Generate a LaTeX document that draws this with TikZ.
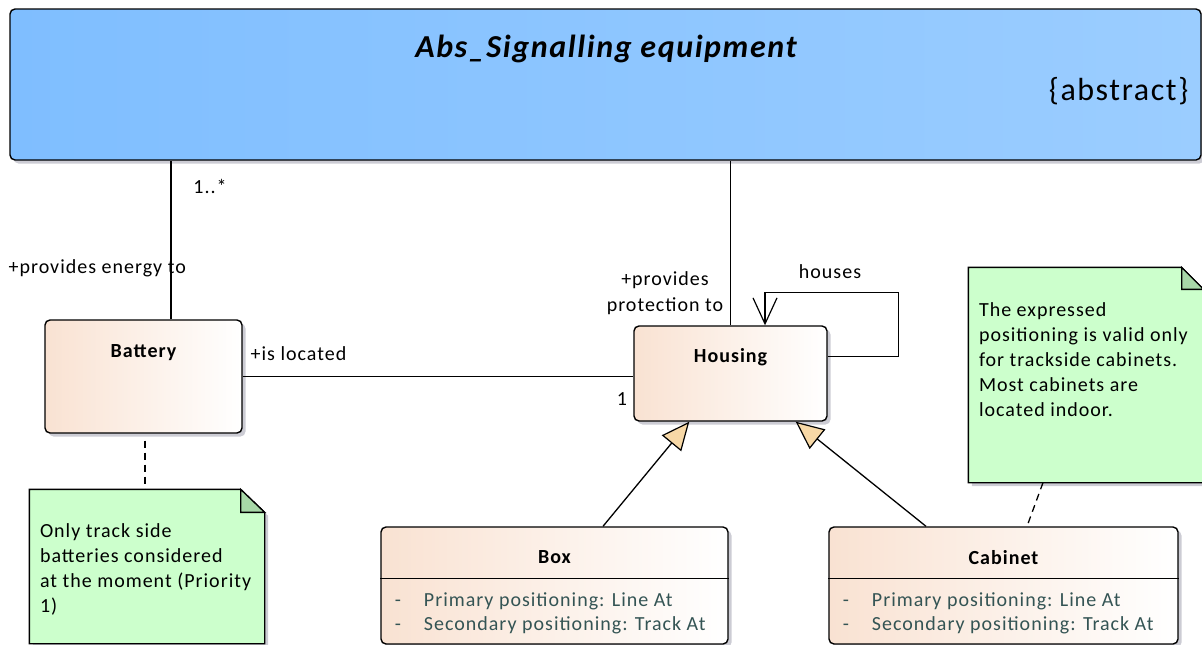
\documentclass[tikz,border=0pt]{standalone}
\usepackage{fontspec}
\setmainfont{Carlito}[LetterSpace=5]
\usetikzlibrary{positioning,calc,arrows.meta,shadows}
\tikzset{>=stealth}

\definecolor{absleft}{RGB}{127,190,255}
\definecolor{absright}{RGB}{155,205,255}
\definecolor{classleft}{RGB}{249,226,210}
\definecolor{notefill}{RGB}{204,255,204}
\definecolor{notefold}{RGB}{168,216,168}
\definecolor{attrtext}{RGB}{52,84,84}
\definecolor{genfill}{RGB}{247,216,166}
\definecolor{shadowgrey}{RGB}{204,204,212}

\tikzset{
  umlshadow/.style={drop shadow={shadow xshift=3.5pt,shadow yshift=-3.5pt,fill=shadowgrey,opacity=1}},
  absbox/.style={draw,line width=1.4pt,rounded corners=5pt,left color=absleft,right color=absright,umlshadow},
  classbox/.style={draw,line width=1.4pt,rounded corners=5pt,left color=classleft,right color=white,umlshadow},
  classname/.style={font=\fontsize{20}{24}\selectfont\bfseries},
  notebody/.style={draw,line width=1.3pt,fill=notefill,umlshadow},
  notefoldpart/.style={draw,line width=1.3pt,fill=notefold},
  notetext/.style={align=left,inner sep=0pt,anchor=north west},
  notelink/.style={line width=1.3pt,dash pattern=on 7pt off 5pt},
  inherit/.style={line width=1.3pt,-{Triangle[open,fill=genfill,length=28pt,width=25pt,line width=1.2pt]}},
  selfassoc/.style={line width=1.3pt,-{Straight Barb[length=26pt,width=24pt,line width=1.2pt]}},
  attr/.style={anchor=west,inner sep=0pt,text=attrtext}
}

\begin{document}
\begin{tikzpicture}[x=1pt,y=-1pt,font=\fontsize{20}{25}\selectfont,line width=1.3pt]
\useasboundingbox (0,0) rectangle (1202,645);

\node[absbox,minimum width=1191pt,minimum height=151pt] (abs) at (605.5,84.5) {};
\node[font=\fontsize{32}{38}\selectfont\bfseries\itshape] (abstitle) at (606,49) {Abs\_Signalling equipment};
\node[font=\fontsize{32}{38}\selectfont,anchor=east,inner sep=0pt] (absstereo) at (1189,91) {\{abstract\}};

\node[classbox,minimum width=197pt,minimum height=113pt] (battery) at (143.5,376.5) {};
\node[classname] (batteryname) at ($(battery.north)+(0,33)$) {Battery};
\node[classbox,minimum width=193pt,minimum height=95pt] (housing) at (730.5,373.5) {};
\node[classname] (housingname) at ($(housing.north)+(0,32)$) {Housing};
\node[classbox,minimum width=347pt,minimum height=117pt] (box) at (554.5,585.5) {};
\node[classname] (boxname) at ($(box.north)+(0,31)$) {Box};
\node[classbox,minimum width=349pt,minimum height=117pt] (cabinet) at (1003.5,585.5) {};
\node[classname] (cabinetname) at ($(cabinet.north)+(0,31)$) {Cabinet};

\foreach \c in {box,cabinet} {
  \draw[line width=1.3pt] ($(\c.north west)+(0,52)$) -- ($(\c.north east)+(0,52)$);
  \node[attr] (\c attra) at ($(\c.north west)+(14,75)$) {\makebox[29pt][l]{-}Primary positioning: Line At};
  \node[attr] (\c attrb) at ($(\c.north west)+(14,99)$) {\makebox[29pt][l]{-}Secondary positioning: Track At};
}

\node[minimum width=234pt,minimum height=153pt,inner sep=0pt] (batterynote) at (147,566.5) {};
\draw[notebody] (batterynote.south west) -- (batterynote.north west) -- ($(batterynote.north east)+(-24,0)$)
  -- ($(batterynote.north east)+(0,23)$) -- (batterynote.south east) -- cycle;
\draw[notefoldpart] ($(batterynote.north east)+(-24,0)$) -- ++(0,23) -- ++(24,0) -- cycle;
\node[notetext] (batterynotetext) at ($(batterynote.north west)+(10,34)$)
  {Only track side\\batteries considered\\at the moment (Priority\\1)};

\node[minimum width=234pt,minimum height=214pt,inner sep=0pt] (cabinetnote) at (1086,375) {};
\draw[notebody] (cabinetnote.south west) -- (cabinetnote.north west) -- ($(cabinetnote.north east)+(-22,0)$)
  -- ($(cabinetnote.north east)+(0,22)$) -- (cabinetnote.south east) -- cycle;
\draw[notefoldpart] ($(cabinetnote.north east)+(-22,0)$) -- ++(0,22) -- ++(22,0) -- cycle;
\node[notetext] (cabinetnotetext) at ($(cabinetnote.north west)+(10,35)$)
  {The expressed\\positioning is valid only\\for trackside cabinets.\\Most cabinets are\\located indoor.};

\draw ($(battery.north)+(27.5,0)$) coordinate (batterytop) -- (batterytop |- abs.south);
\draw (battery.east) -- (battery.east -| housing.west);
\draw (housing.north) -- (housing.north |- abs.south);
\draw[selfassoc] ($(housing.east)+(0,-17)$) -- ++(71,0) |- ($(housing.north)+(34.5,-33)$)
  -- ($(housing.north)+(34.5,0)$);
\draw[inherit] ($(box.north)+(48.5,0)$) -- ($(housing.south west)+(56,0)$);
\draw[inherit] ($(cabinet.north)+(-77.5,0)$) -- ($(housing.south east)+(-32,0)$);
\draw[notelink] ($(battery.south)+(1.5,7)$) -- ($(batterynote.north)+(-2,0)$);
\draw[notelink] ($(cabinetnote.south)+(-43,0)$) -- ($(cabinet.north)+(23.5,0)$);

\node[anchor=west,inner sep=0pt] (energylabel) at (8,268) {+provides energy to};
\node (batterymult) at (210,186) {1..*};
\node[anchor=west,inner sep=0pt] (locatedlabel) at (250,354) {+is located};
\node (housingmult) at (622,399) {1};
\node[align=center,font=\fontsize{20}{26}\selectfont] (protectionlabel) at (665,293) {+provides\\protection to};
\node (houseslabel) at (830,272) {houses};
\end{tikzpicture}
\end{document}
